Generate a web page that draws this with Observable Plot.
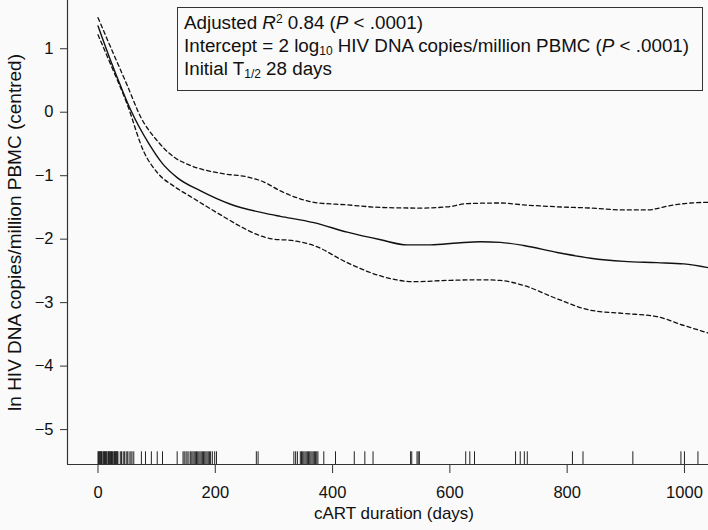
<!DOCTYPE html>
<html>
<head>
<meta charset="utf-8">
<script src="https://cdn.jsdelivr.net/npm/d3@7"></script>
<script src="https://cdn.jsdelivr.net/npm/@observablehq/plot@0.6"></script>
<style>
  html, body { margin: 0; padding: 0; background: #fafafa; }
  #wrap { position: relative; width: 708px; height: 530px; font-family: "Liberation Sans", Arial, Helvetica, sans-serif; }
  #legend {
    position: absolute; left: 177px; top: 7px; width: 512px; height: 76px;
    border: 1px solid #333; padding: 3px 6px 3px 6px; box-sizing: content-box;
    color: #111; background: #fafafa; white-space: nowrap;
  }
  #legend .ln { font-size: 18.8px; height: 23px; line-height: 23px; }
  #legend sup { font-size: 12px; line-height: 0; vertical-align: 6px; }
  #legend sub { font-size: 12px; line-height: 0; vertical-align: -3px; }
</style>
</head>
<body>
<div id="wrap"></div>
<script>
// Fitted curve (solid) and confidence band (dashed)
const fitDays   = [0, 20, 40, 56, 87, 110, 135, 175, 226, 294, 311, 368, 425, 482, 527, 567, 613, 652, 686, 726, 783, 840, 897, 953, 999, 1041];
const fitValues = [1.36, 0.85, 0.38, 0.03, -0.50, -0.81, -1.03, -1.24, -1.45, -1.61, -1.64, -1.74, -1.89, -2.01, -2.09, -2.09, -2.06, -2.04, -2.05, -2.10, -2.21, -2.30, -2.35, -2.37, -2.39, -2.45];

const upperDays   = [0, 25, 50, 73, 101, 130, 158, 215, 255, 283, 311, 340, 368, 425, 482, 550, 596, 630, 686, 726, 783, 840, 897, 936, 976, 1010, 1041];
const upperValues = [1.49, 0.95, 0.42, -0.08, -0.45, -0.71, -0.84, -0.97, -1.02, -1.10, -1.24, -1.35, -1.42, -1.46, -1.50, -1.51, -1.49, -1.44, -1.43, -1.46, -1.49, -1.51, -1.54, -1.54, -1.47, -1.43, -1.42];

const lowerDays   = [0, 25, 50, 78, 101, 130, 158, 186, 215, 243, 272, 300, 330, 368, 425, 482, 539, 596, 652, 686, 726, 783, 840, 897, 953, 999, 1041];
const lowerValues = [1.22, 0.68, 0.12, -0.62, -0.95, -1.17, -1.33, -1.49, -1.65, -1.80, -1.93, -2.00, -2.02, -2.10, -2.37, -2.58, -2.67, -2.65, -2.64, -2.65, -2.73, -2.94, -3.12, -3.17, -3.22, -3.36, -3.48];

// Rug: observation times (days)
const rugDays = [
  0, 1, 2, 3, 4, 5, 6, 7, 9, 10, 11, 12, 13, 14, 15, 17, 18, 19, 20, 21, 22, 23, 24, 25,
  27, 28, 29, 30, 31, 32, 33, 34, 38, 40, 43, 45, 48, 50, 53, 56, 58, 61,
  74, 81, 91, 101, 110, 135,
  145, 147, 150, 152, 155, 158, 160, 162, 164, 166, 168, 170, 172, 174, 176, 178, 180, 182, 184, 186, 188, 190, 192,
  195, 199, 202, 270, 273,
  334, 337, 340, 345, 347, 349, 351, 353, 355, 357, 359, 361, 363, 365, 367, 369, 371, 373, 375,
  385, 405, 437, 455, 469,
  533, 535, 544, 546, 548, 627, 634, 642, 712, 720, 727, 732, 809, 827, 912, 994, 1000, 1023
];

const xTicks = [0, 200, 400, 600, 800, 1000];
const yTicks = [-5, -4, -3, -2, -1, 0, 1];
const xDomain = [-52, 1041];
const yDomain = [-5.55, 1.76];

const fit   = fitDays.map((d, i) => ({day: d, value: fitValues[i]}));
const upper = upperDays.map((d, i) => ({day: d, value: upperValues[i]}));
const lower = lowerDays.map((d, i) => ({day: d, value: lowerValues[i]}));

const font = '"Liberation Sans", Arial, Helvetica, sans-serif';

const chart = Plot.plot({
  width: 708,
  height: 530,
  marginLeft: 67,
  marginRight: 0,
  marginTop: 0,
  marginBottom: 66,
  style: {fontFamily: font, fontSize: "16px", background: "#fafafa", color: "#111"},
  x: {domain: xDomain},
  y: {domain: yDomain},
  marks: [
    Plot.axisX({ticks: xTicks, tickFormat: d => String(d), tickSize: 9, tickPadding: 13, fontSize: 16.5, label: null, stroke: "#333"}),
    Plot.axisY({ticks: yTicks, tickSize: 7, tickPadding: 7, fontSize: 16.5, label: null, stroke: "#333"}),
    Plot.ruleY([yDomain[0]], {stroke: "#333", strokeWidth: 1.2}),
    Plot.ruleX([xDomain[0]], {stroke: "#333", strokeWidth: 1.2}),
    Plot.ruleX(rugDays, {x: d => d, y1: yDomain[0], y2: yDomain[0] + 0.2, stroke: "#222", strokeWidth: 1}),
    Plot.line(upper, {x: "day", y: "value", curve: "monotone-x", stroke: "#111", strokeWidth: 1.3, strokeDasharray: "4,3"}),
    Plot.line(lower, {x: "day", y: "value", curve: "monotone-x", stroke: "#111", strokeWidth: 1.3, strokeDasharray: "4,3"}),
    Plot.line(fit, {x: "day", y: "value", curve: "monotone-x", stroke: "#111", strokeWidth: 1.4}),
    Plot.text(["cART duration (days)"], {frameAnchor: "bottom", dy: 54, dx: 6, fontSize: 17, fill: "#111", textAnchor: "middle"}),
    Plot.text(["ln HIV DNA copies/million PBMC (centred)"], {frameAnchor: "left", dx: -53, rotate: -90, fontSize: 19, fill: "#111", textAnchor: "middle"})
  ]
});

const wrap = document.getElementById("wrap");
wrap.appendChild(chart);
const legend = document.createElement("div");
legend.id = "legend";
legend.innerHTML =
  '<div class="ln">Adjusted <i>R</i><sup>2</sup> 0.84 (<i>P</i> &lt; .0001)</div>' +
  '<div class="ln">Intercept = 2 log<sub>10</sub> HIV DNA copies/million PBMC (<i>P</i> &lt; .0001)</div>' +
  '<div class="ln">Initial T<sub>1/2</sub> 28 days</div>';
wrap.appendChild(legend);
</script>
</body>
</html>
